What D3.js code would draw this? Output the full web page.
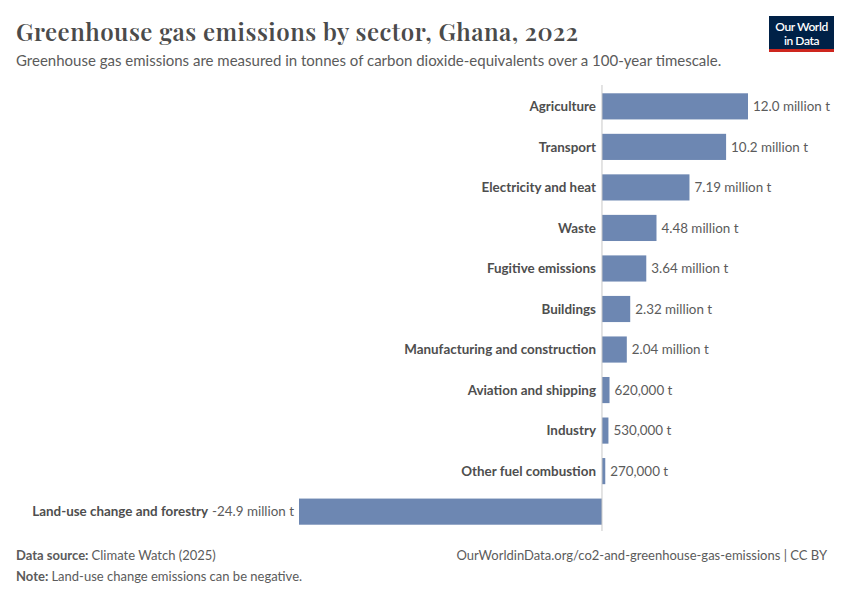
<!DOCTYPE html>
<html><head><meta charset="utf-8">
<script src="https://cdn.jsdelivr.net/npm/d3@7"></script>
<style>body{margin:0;background:#fff}svg{display:block}</style>
</head><body>
<svg id="c" width="850" height="600"></svg>
<script>
const categories = ["Agriculture","Transport","Electricity and heat","Waste","Fugitive emissions","Buildings","Manufacturing and construction","Aviation and shipping","Industry","Other fuel combustion","Land-use change and forestry"];
const values = [12.0e6,10.2e6,7.19e6,4.48e6,3.64e6,2.32e6,2.04e6,620000,530000,270000,-24.9e6];
const valueLabels = ["12.0 million t","10.2 million t","7.19 million t","4.48 million t","3.64 million t","2.32 million t","2.04 million t","620,000 t","530,000 t","270,000 t","-24.9 million t"];

const svg = d3.select("#c");
const font = "Lato, 'Open Sans', sans-serif";
svg.append("rect").attr("width",850).attr("height",600).attr("fill","#fff");

svg.append("text").attr("x",16).attr("y",41).attr("font-family","'Playfair Display','DejaVu Serif',serif")
  .attr("font-size",24).attr("font-weight",600).attr("fill","#4b4b4b").attr("textLength",562)
  .text("Greenhouse gas emissions by sector, Ghana, 2022");
svg.append("text").attr("x",16).attr("y",66).attr("font-family",font).attr("font-size",15).attr("fill","#5b5b5b")
  .text("Greenhouse gas emissions are measured in tonnes of carbon dioxide-equivalents over a 100-year timescale.");

// logo
const logo = svg.append("g");
logo.append("rect").attr("x",769).attr("y",16).attr("width",65).attr("height",35).attr("fill","#002147");
logo.append("rect").attr("x",769).attr("y",49).attr("width",65).attr("height",3).attr("fill","#ce261e");
logo.append("text").attr("x",801.5).attr("y",31).attr("text-anchor","middle").attr("font-family",font).attr("font-size",12).attr("font-weight",600).attr("fill","#fff").attr("letter-spacing",-0.4).text("Our World");
logo.append("text").attr("x",801.5).attr("y",44.5).attr("text-anchor","middle").attr("font-family",font).attr("font-size",12).attr("font-weight",600).attr("fill","#fff").attr("letter-spacing",-0.4).text("in Data");

const x = d3.scaleLinear().domain([-24.9e6, 12.0e6]).range([299, 748]);
const y = d3.scaleBand().domain(categories).range([86, 532]).paddingInner(0.355).paddingOuter(0.18);

const g = svg.append("g");
g.selectAll("rect.bar").data(categories).join("rect").attr("class","bar")
  .attr("x",(d,i)=>Math.min(x(0),x(values[i])))
  .attr("width",(d,i)=>Math.abs(x(values[i])-x(0)))
  .attr("y",d=>y(d)).attr("height",y.bandwidth()).attr("fill","#6d87b2");

svg.append("line").attr("x1",x(0)).attr("x2",x(0)).attr("y1",85).attr("y2",531).attr("stroke","#c8c8c8").attr("stroke-width",1);

categories.forEach((c,i)=>{
  const v = values[i];
  const cy = y(c)+y.bandwidth()/2;
  if (v>=0) {
    g.append("text").attr("x",x(0)-6).attr("y",cy).attr("dy","0.35em").attr("text-anchor","end")
      .attr("font-family",font).attr("font-size",13.4).attr("font-weight",700).attr("fill","#4e4e4e").text(c);
    g.append("text").attr("x",x(v)+5).attr("y",cy).attr("dy","0.35em")
      .attr("font-family",font).attr("font-size",13.4).attr("fill","#5b5b5b").text(valueLabels[i]);
  } else {
    const vt = g.append("text").attr("x",x(v)-5).attr("y",cy).attr("dy","0.35em").attr("text-anchor","end")
      .attr("font-family",font).attr("font-size",13.4).attr("fill","#5b5b5b").text(valueLabels[i]);
    const w = vt.node().getComputedTextLength();
    g.append("text").attr("x",x(v)-5-w-4).attr("y",cy).attr("dy","0.35em").attr("text-anchor","end")
      .attr("font-family",font).attr("font-size",13.4).attr("font-weight",700).attr("fill","#4e4e4e").text(c);
  }
});

const f1 = svg.append("text").attr("x",16).attr("y",560).attr("font-family",font).attr("font-size",13).attr("fill","#5b5b5b");
f1.append("tspan").attr("font-weight",700).text("Data source: ");
f1.append("tspan").text("Climate Watch (2025)");
const f2 = svg.append("text").attr("x",16).attr("y",581).attr("font-family",font).attr("font-size",13).attr("fill","#5b5b5b");
f2.append("tspan").attr("font-weight",700).text("Note: ");
f2.append("tspan").text("Land-use change emissions can be negative.");
svg.append("text").attr("x",827).attr("y",560).attr("text-anchor","end").attr("font-family",font).attr("font-size",13).attr("fill","#5b5b5b")
  .text("OurWorldinData.org/co2-and-greenhouse-gas-emissions | CC BY");
</script>
</body></html>
